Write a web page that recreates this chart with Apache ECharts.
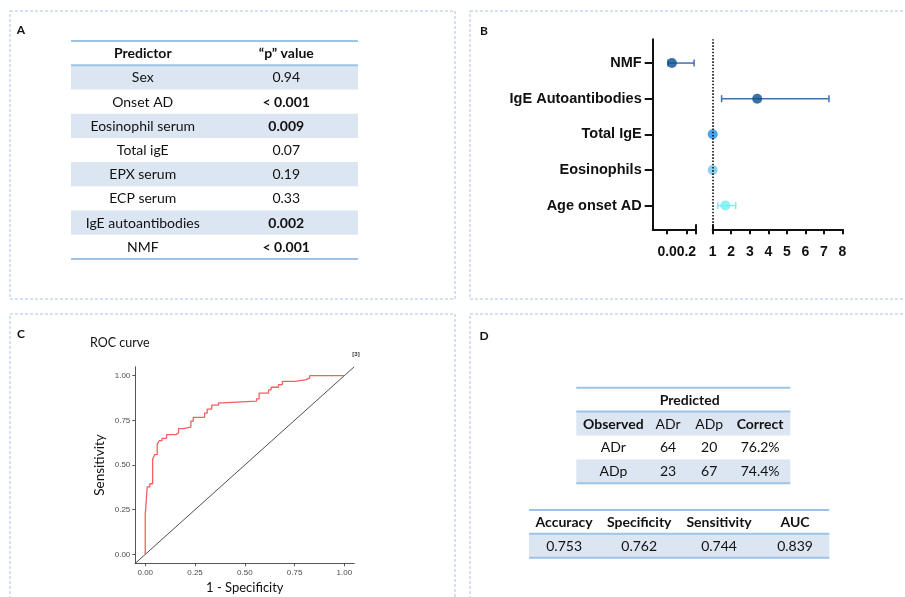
<!DOCTYPE html>
<html><head><meta charset="utf-8">
<script src="https://cdn.jsdelivr.net/npm/echarts@6/dist/echarts.min.js"></script>
<style>html,body{margin:0;padding:0;background:#fff}#c{width:905px;height:597px}</style>
</head><body><div id="c"></div>
<script>
// ---------- Panel A data ----------
const tableAHeader = ['Predictor', '\u201Cp\u201D value'];
const predictors = ['Sex','Onset AD','Eosinophil serum','Total igE','EPX serum','ECP serum','IgE autoantibodies','NMF'];
const pValues = ['0.94','< 0.001','0.009','0.07','0.19','0.33','0.002','< 0.001'];
const pSignificant = [false,true,true,false,false,false,true,true];

// ---------- Panel B data ----------
const forestCategories = ['NMF','IgE Autoantibodies','Total IgE','Eosinophils','Age onset AD'];
const forestOR   = [0.05, 3.40, 1.00, 1.00, 1.68];
const forestLow  = [0.01, 1.48, 1.00, 1.00, 1.27];
const forestHigh = [0.28, 7.27, 1.00, 1.00, 2.24];
const forestTicksLow = [0.0, 0.2];
const forestTicksHigh = [1,2,3,4,5,6,7,8];

// ---------- Panel C data ----------
const rocFPR = [0, 0, 0.010, 0.023, 0.037, 0.047, 0.060, 0.070, 0.084, 0.107, 0.154, 0.167, 0.191, 0.229, 0.241, 0.298, 0.311, 0.334, 0.368, 0.385, 0.559, 0.572, 0.619, 0.632, 0.669, 0.689, 0.753, 0.809, 0.826, 1.0];
const rocTPR = [0, 0.224, 0.378, 0.395, 0.532, 0.558, 0.616, 0.636, 0.649, 0.670, 0.679, 0.703, 0.712, 0.746, 0.766, 0.790, 0.813, 0.835, 0.848, 0.857, 0.870, 0.902, 0.920, 0.935, 0.950, 0.968, 0.978, 0.987, 1.0, 1.0];
const rocTicks = [0, 0.25, 0.5, 0.75, 1];

// ---------- Panel D data ----------
const confTitle = 'Predicted';
const confHeader = ['Observed','ADr','ADp','Correct'];
const confObserved = ['ADr','ADp'];
const confPredADr = [64, 23];
const confPredADp = [20, 67];
const confCorrect = ['76.2%','74.4%'];
const metricNames = ['Accuracy','Specificity','Sensitivity','AUC'];
const metricValues = ['0.753','0.762','0.744','0.839'];

// ---------- styles ----------
const CAL = 'Lato, "Open Sans", sans-serif';
const ARI = '"Liberation Sans", Arial, sans-serif';
const SHADE = '#dce6f2';
const RULE = '#9dc3e6';
const BORDER = '#a9c3ea';
const forestPointColors = ['#0b4f8c','#0b4f8c','#1b8ef0','#70c6f2','#70eff2'];
const forestBarColors = ['#3f70b0','#3f70b0','#1b8ef0','#70c6f2','#78eef4'];

const chart = echarts.init(document.getElementById('c'), null, {renderer:'canvas', width:905, height:597});
const grids = [], xAxes = [], yAxes = [], series = [];

function addTable(rect, rows, rules, fontSize){
  const gi = grids.length;
  grids.push({left:rect.left, top:rect.top, width:rect.width, height:rect.height});
  const xi = xAxes.length; xAxes.push({type:'value', gridIndex:gi, min:0, max:1, show:false});
  const yi = yAxes.length; yAxes.push({type:'category', gridIndex:gi, data: rows.map((r,i)=>String(i)), inverse:true, show:false});
  series.push({type:'custom', xAxisIndex:xi, yAxisIndex:yi, silent:true, clip:false,
    data: rows.map((r,i)=>[0, i]),
    renderItem(params, api){
      const i = api.value(1);
      const row = rows[i];
      const cy = api.coord([0, i])[1];
      const h = api.size([0, 1])[1];
      const cs = params.coordSys;
      const ch = [];
      if (row.shaded) ch.push({type:'rect', shape:{x:cs.x, y:cy-h/2, width:cs.width, height:h}, style:{fill:SHADE}});
      row.cells.forEach(c => ch.push({type:'text', x:api.coord([c.pos, i])[0], y:cy+0.5,
        style:{text:c.text, font:(c.bold?'bold ':'')+fontSize+'px '+CAL, fill:'#111', align:'center', verticalAlign:'middle'}}));
      if (rules.includes(i)) ch.push({type:'line', z2:10, shape:{x1:cs.x, y1:cy-h/2, x2:cs.x+cs.width, y2:cy-h/2}, style:{stroke:RULE, lineWidth:2}});
      if (i === rows.length-1 && rules.includes(rows.length)) ch.push({type:'line', z2:10, shape:{x1:cs.x, y1:cy+h/2, x2:cs.x+cs.width, y2:cy+h/2}, style:{stroke:RULE, lineWidth:2}});
      return {type:'group', children:ch};
    }});
}

// ----- Table A -----
const colsA = [0.25, 0.75];
const rowsA = [{shaded:false, cells: tableAHeader.map((t,k)=>({text:t, pos:colsA[k], bold:true}))}];
predictors.forEach((p,k)=>rowsA.push({shaded: k%2===0, cells:[{text:p, pos:colsA[0]}, {text:pValues[k], pos:colsA[1], bold:pSignificant[k]}]}));
addTable({left:71, top:41, width:287, height:218}, rowsA, [0,1,9], 14);

// ----- Table D1 -----
const colsD1 = [0.173, 0.429, 0.621, 0.859];
const boldD1 = [true,false,false,true];
const rowsD1 = [
  {shaded:false, cells:[{text:confTitle, pos:0.53, bold:true}]},
  {shaded:true, cells: confHeader.map((t,k)=>({text:t, pos:colsD1[k], bold:boldD1[k]}))}
];
confObserved.forEach((o,k)=>rowsD1.push({shaded:k%2===1, cells:[o, confPredADr[k], confPredADp[k], confCorrect[k]].map((t,j)=>({text:String(t), pos:colsD1[j]}))}));
addTable({left:576.3, top:387.7, width:214, height:95.6}, rowsD1, [0,1,4], 14);

// ----- Table D2 -----
const colsD2 = [0.117, 0.367, 0.633, 0.886];
const rowsD2 = [
  {shaded:false, cells: metricNames.map((t,k)=>({text:t, pos:colsD2[k], bold:true}))},
  {shaded:true, cells: metricValues.map((t,k)=>({text:t, pos:colsD2[k]}))}
];
addTable({left:529, top:510, width:300.3, height:47.7}, rowsD2, [0,1,2], 14);

// ----- Forest plot (panel B) -----
const nCat = forestCategories.length;
const yMin = 1/3, yMax = nCat + 2/3;
const gF0 = grids.length;
grids.push({left:652.7, top:39.3, width:43.3, height:190});
const gF1 = grids.length;
grids.push({left:712.7, top:39.3, width:129.8, height:190});
const boldAxisFont = {fontFamily:ARI, fontWeight:'bold', color:'#111'};
const lowLabelsA = forestTicksLow.filter((v,i)=>i%2===0);
const lowLabelsB = forestTicksLow.filter((v,i)=>i%2===1);
const xF0 = xAxes.length;
xAxes.push({type:'value', gridIndex:gF0, min:-0.15, max:0.3,
  axisLine:{show:true, onZero:false, lineStyle:{color:'#111', width:2}},
  axisTick:{show:true, customValues:[...forestTicksLow, 0.3], length:5, lineStyle:{color:'#111', width:2}},
  axisLabel:{customValues:lowLabelsA, formatter:v=>v.toFixed(1), fontSize:14, margin:16, hideOverlap:false, ...boldAxisFont},
  splitLine:{show:false}});
const xF0b = xAxes.length;
xAxes.push({type:'value', gridIndex:gF0, min:-0.15, max:0.3, position:'bottom',
  axisLine:{show:false}, axisTick:{show:true, inside:true, customValues:[0.3], length:5, lineStyle:{color:'#111', width:2}},
  axisLabel:{customValues:lowLabelsB, formatter:v=>v.toFixed(1), fontSize:14, margin:16, hideOverlap:false, ...boldAxisFont},
  splitLine:{show:false}});
const xF1 = xAxes.length;
xAxes.push({type:'value', gridIndex:gF1, min:1, max:8, interval:1,
  axisLine:{show:true, onZero:false, lineStyle:{color:'#111', width:2}},
  axisTick:{show:true, customValues:forestTicksHigh, length:5, lineStyle:{color:'#111', width:2}},
  axisLabel:{customValues:forestTicksHigh, fontSize:14, margin:16, hideOverlap:false, ...boldAxisFont},
  splitLine:{show:false}});
const xF1b = xAxes.length;
xAxes.push({type:'value', gridIndex:gF1, min:1, max:8, position:'bottom',
  axisLine:{show:false}, axisTick:{show:true, inside:true, customValues:[1], length:5, lineStyle:{color:'#111', width:2}},
  axisLabel:{show:false}, splitLine:{show:false}});
const catY = forestCategories.map((c,i)=>nCat - i);
const yF0 = yAxes.length;
yAxes.push({type:'value', gridIndex:gF0, min:yMin, max:yMax,
  axisLine:{show:true, onZero:false, lineStyle:{color:'#111', width:2}},
  axisTick:{show:true, customValues:catY, length:8, lineStyle:{color:'#111', width:2}},
  axisLabel:{customValues:catY, formatter:v=>forestCategories[nCat-Math.round(v)], fontSize:14.5, margin:11, ...boldAxisFont},
  splitLine:{show:false}});
const yF1 = yAxes.length;
yAxes.push({type:'value', gridIndex:gF1, min:yMin, max:yMax, show:false, splitLine:{show:false}});

function errRender(params, api){
  const y = api.value(2);
  const p1 = api.coord([api.value(0), y]);
  const p2 = api.coord([api.value(1), y]);
  const c = api.visual('color');
  const h = 3.5;
  const st = {stroke:c, lineWidth:1.5};
  return {type:'group', children:[
    {type:'line', shape:{x1:p1[0], y1:p1[1], x2:p2[0], y2:p2[1]}, style:st},
    {type:'line', shape:{x1:p1[0], y1:p1[1]-h, x2:p1[0], y2:p1[1]+h}, style:st},
    {type:'line', shape:{x1:p2[0], y1:p2[1]-h, x2:p2[0], y2:p2[1]+h}, style:st}
  ]};
}
const lowIdx = forestCategories.map((c,i)=>i).filter(i=>forestHigh[i] < 0.5);
const highIdx = forestCategories.map((c,i)=>i).filter(i=>forestHigh[i] >= 0.5);
function errData(idx){ return idx.filter(i=>forestHigh[i] > forestLow[i]).map(i=>({value:[forestLow[i], forestHigh[i], catY[i]], itemStyle:{color:forestBarColors[i]}})); }
function ptData(idx){ return idx.map(i=>({value:[forestOR[i], catY[i]], itemStyle:{color:forestPointColors[i]}})); }
series.push({type:'custom', xAxisIndex:xF0, yAxisIndex:yF0, renderItem:errRender, encode:{x:[0,1], y:2}, data:errData(lowIdx), silent:true, clip:false, z:3});
series.push({type:'custom', xAxisIndex:xF1, yAxisIndex:yF1, renderItem:errRender, encode:{x:[0,1], y:2}, data:errData(highIdx), silent:true, clip:false, z:3});
series.push({type:'scatter', xAxisIndex:xF0, yAxisIndex:yF0, symbolSize:10, data:ptData(lowIdx), silent:true, z:4});
series.push({type:'scatter', xAxisIndex:xF1, yAxisIndex:yF1, symbolSize:10, data:ptData(highIdx), silent:true, z:4,
  markLine:{silent:true, symbol:'none', label:{show:false}, lineStyle:{type:'dotted', color:'#111', width:1.6}, data:[{xAxis:1}]}});

// ----- ROC (panel C) -----
const rocMin = -0.05, rocMax = 1.05;
const gR = grids.length;
grids.push({left:135.3, top:366.7, width:219, height:196.6});
const smallFont = {fontFamily:ARI, fontSize:8, color:'#4d4d4d'};
const xR = xAxes.length;
xAxes.push({type:'value', gridIndex:gR, min:rocMin, max:rocMax,
  axisLine:{show:true, onZero:false, lineStyle:{color:'#444', width:0.9}},
  axisTick:{show:true, customValues:rocTicks, length:3, lineStyle:{color:'#444', width:0.9}},
  axisLabel:{customValues:rocTicks, formatter:v=>v.toFixed(2), margin:5, ...smallFont},
  splitLine:{show:false},
  name:'1 - Specificity', nameLocation:'middle', nameGap:18, nameTextStyle:{fontFamily:CAL, fontSize:13, color:'#111'}});
const yR = yAxes.length;
yAxes.push({type:'value', gridIndex:gR, min:rocMin, max:rocMax,
  axisLine:{show:true, onZero:false, lineStyle:{color:'#444', width:0.9}},
  axisTick:{show:true, customValues:rocTicks, length:3, lineStyle:{color:'#444', width:0.9}},
  axisLabel:{customValues:rocTicks, formatter:v=>v.toFixed(2), margin:5, ...smallFont},
  splitLine:{show:false},
  name:'Sensitivity', nameLocation:'middle', nameGap:29, nameRotate:90, nameTextStyle:{fontFamily:CAL, fontSize:13.5, color:'#111'}});
series.push({type:'line', xAxisIndex:xR, yAxisIndex:yR, data:[[rocMin,rocMin],[rocMax,rocMax]], symbol:'none', silent:true,
  lineStyle:{color:'#222', width:0.8}, z:2});
series.push({type:'line', xAxisIndex:xR, yAxisIndex:yR, step:'end', data:rocFPR.map((x,i)=>[x, rocTPR[i]]), symbol:'none', silent:true,
  lineStyle:{color:'#f45f5f', width:1.3}, z:3});

// ----- decorations -----
const dashed = {stroke:BORDER, lineWidth:1, lineDash:[3,2], fill:null};
const graphic = [
  {type:'rect', shape:{x:10, y:11, width:445, height:288}, style:dashed, silent:true},
  {type:'rect', shape:{x:470, y:11, width:445, height:288}, style:dashed, silent:true},
  {type:'rect', shape:{x:10, y:314, width:445, height:300}, style:dashed, silent:true},
  {type:'rect', shape:{x:470, y:314, width:445, height:300}, style:dashed, silent:true},
  {type:'text', x:21, y:30, style:{text:'A', font:'bold 12px '+CAL, fill:'#111', align:'center', verticalAlign:'middle'}},
  {type:'text', x:484, y:31, style:{text:'B', font:'bold 12px '+CAL, fill:'#111', align:'center', verticalAlign:'middle'}},
  {type:'text', x:21, y:334, style:{text:'C', font:'bold 12px '+CAL, fill:'#111', align:'center', verticalAlign:'middle'}},
  {type:'text', x:484, y:336, style:{text:'D', font:'bold 12px '+CAL, fill:'#111', align:'center', verticalAlign:'middle'}},
  {type:'text', x:90, y:343, style:{text:'ROC curve', font:'12.5px '+CAL, fill:'#111', align:'left', verticalAlign:'middle'}},
  {type:'text', x:356, y:354, style:{text:'[3]', font:'bold 6px '+ARI, fill:'#333', align:'center', verticalAlign:'middle'}}
];

chart.setOption({animation:false, backgroundColor:'#fff', grid:grids, xAxis:xAxes, yAxis:yAxes, series:series, graphic:graphic});
</script></body></html>
